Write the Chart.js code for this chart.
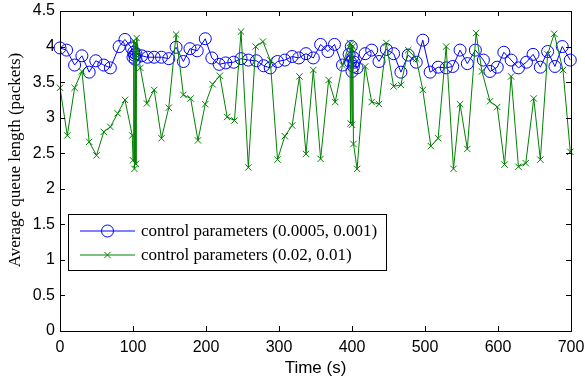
<!DOCTYPE html>
<html>
<head>
<meta charset="utf-8">
<script src="https://cdn.jsdelivr.net/npm/chart.js@4.4.1/dist/chart.umd.min.js"></script>
<style>
  html, body { margin: 0; padding: 0; background: #fff; }
  #wrap { width: 585px; height: 380px; }
</style>
</head>
<body>
<div id="wrap"><canvas id="myChart" width="585" height="380"></canvas></div>
<script>
// control parameters (0.0005, 0.001)
const blueTime = [0, 9, 20, 30, 40, 49, 60, 69, 81, 89, 98, 100, 101, 102, 103, 104, 112, 120, 129, 139,
  149, 159, 169, 178, 188, 199, 208, 218, 227, 238, 248, 258, 269, 279, 288, 298, 308, 318, 327, 337,
  347, 357, 367, 376, 387, 396, 398, 399, 400, 401, 402, 403, 407, 418, 427, 437, 447, 457, 467, 477,
  488, 497, 507, 518, 529, 538, 548, 558, 569, 580, 589, 599, 608, 618, 628, 639, 648, 658, 668, 678,
  688, 699];
const blueQueue = [3.98, 3.95, 3.74, 3.87, 3.64, 3.80, 3.74, 3.70, 4.00, 4.10, 3.98, 3.85, 3.92, 3.88, 3.82, 3.90, 3.87, 3.85, 3.85, 3.85,
  3.83, 3.99, 3.79, 3.97, 3.94, 4.11, 3.84, 3.75, 3.77, 3.78, 3.83, 3.81, 3.80, 3.73, 3.70, 3.79, 3.81, 3.86, 3.84, 3.90,
  3.84, 4.03, 3.93, 4.03, 3.74, 3.89, 3.78, 4.00, 3.65, 3.85, 3.72, 3.78, 3.70, 3.90, 3.95, 3.79, 3.96, 3.90, 3.64, 3.88,
  3.78, 4.09, 3.64, 3.71, 3.70, 3.72, 3.95, 3.76, 3.95, 3.81, 3.65, 3.71, 3.92, 3.81, 3.70, 3.78, 3.89, 3.71, 3.93, 3.72,
  4.00, 3.81];

// control parameters (0.02, 0.01)
const greenTime = [0, 10, 20, 30, 40, 50, 60, 69, 79, 89, 99, 100, 101, 102, 103, 104, 105, 110, 119, 129,
  139, 149, 159, 169, 179, 189, 199, 209, 219, 229, 239, 248, 258, 268, 278, 288, 298, 308, 318, 328,
  337, 347, 357, 368, 377, 387, 397, 398, 399, 400, 401, 402, 407, 418, 427, 437, 447, 457, 467, 477,
  488, 497, 508, 518, 529, 539, 548, 558, 570, 578, 589, 599, 609, 618, 628, 638, 649, 658, 668, 677,
  689, 699];
const greenQueue = [3.42, 2.75, 3.42, 3.65, 2.66, 2.47, 2.80, 2.87, 3.06, 3.25, 2.75, 2.40, 4.08, 2.28, 4.05, 2.35, 4.12, 3.70, 3.20, 3.39,
  2.71, 3.14, 4.17, 3.32, 3.27, 2.68, 3.19, 3.47, 3.59, 3.01, 2.96, 4.21, 2.30, 4.00, 4.07, 3.81, 2.41, 2.74, 2.89, 3.58,
  2.49, 3.67, 2.42, 3.53, 3.22, 3.74, 4.05, 2.92, 4.03, 2.90, 4.00, 2.63, 2.28, 3.72, 3.22, 3.19, 4.05, 3.44, 3.46, 3.95,
  3.83, 3.39, 2.60, 2.71, 4.00, 2.28, 3.19, 2.56, 4.19, 3.65, 3.23, 3.15, 2.34, 3.58, 2.31, 2.36, 3.27, 2.41, 3.89, 4.18,
  3.67, 2.52];

const xTicks = [0, 100, 200, 300, 400, 500, 600, 700];
const yTicks = [0, 0.5, 1, 1.5, 2, 2.5, 3, 3.5, 4, 4.5];
const seriesNames = ["control parameters (0.0005, 0.001)", "control parameters (0.02, 0.01)"];
const yTitle = "Average queue length (packets)";

const toPoints = (xs, ys) => xs.map((x, i) => ({ x: x, y: ys[i] }));

// MATLAB-like box with inward ticks on all four sides, plus legend and y title
const boxPlugin = {
  id: "box",
  afterDraw(chart) {
    const { ctx, chartArea: a, scales } = chart;
    ctx.save();
    ctx.strokeStyle = "#000";
    ctx.lineWidth = 1;
    ctx.beginPath();
    xTicks.forEach((t) => {
      const px = Math.round(scales.x.getPixelForValue(t)) + 0.5;
      ctx.moveTo(px, a.bottom); ctx.lineTo(px, a.bottom - 5);
      ctx.moveTo(px, a.top); ctx.lineTo(px, a.top + 5);
    });
    yTicks.forEach((t) => {
      const py = Math.round(scales.y.getPixelForValue(t)) + 0.5;
      ctx.moveTo(a.left, py); ctx.lineTo(a.left + 5, py);
      ctx.moveTo(a.right, py); ctx.lineTo(a.right - 5, py);
    });
    ctx.stroke();
    ctx.strokeRect(Math.round(a.left) + 0.5, Math.round(a.top) + 0.5,
      Math.round(a.right - a.left), Math.round(a.bottom - a.top));

    // y axis title
    ctx.save();
    ctx.translate(16, 160);
    ctx.rotate(-Math.PI / 2);
    ctx.fillStyle = "#000";
    ctx.font = "17px 'Liberation Serif'";
    ctx.textAlign = "center";
    ctx.textBaseline = "middle";
    ctx.fillText(yTitle, 0, 0);
    ctx.restore();

    // legend box
    const lx = 68.5, ly = 214.5, lw = 318, lh = 56;
    ctx.fillStyle = "#fff";
    ctx.fillRect(lx, ly, lw, lh);
    ctx.strokeRect(lx, ly, lw, lh);
    ctx.font = "17px 'Liberation Serif'";
    ctx.textBaseline = "middle";
    const rows = [231, 255];
    chart.data.datasets.forEach((ds, i) => {
      const y = rows[i];
      ctx.strokeStyle = ds.borderColor;
      ctx.lineWidth = 1;
      ctx.beginPath();
      ctx.moveTo(80, y); ctx.lineTo(135, y);
      ctx.stroke();
      ctx.beginPath();
      if (ds.pointStyle === "circle") {
        ctx.arc(107.5, y, ds.pointRadius, 0, Math.PI * 2);
      } else {
        const r = ds.pointRadius * 0.71;
        ctx.moveTo(107.5 - r, y - r); ctx.lineTo(107.5 + r, y + r);
        ctx.moveTo(107.5 - r, y + r); ctx.lineTo(107.5 + r, y - r);
      }
      ctx.stroke();
      ctx.fillStyle = "#000";
      ctx.fillText(seriesNames[i], 141, y + 1);
    });
    ctx.restore();
  },
};

const ctx_1 = document.getElementById("myChart");

new Chart(ctx_1, {
  type: "line",
  data: {
    datasets: [
      {
        label: seriesNames[0],
        data: toPoints(blueTime, blueQueue),
        borderColor: "#0000ff",
        borderWidth: 1,
        pointStyle: "circle",
        pointRadius: 6,
        pointBorderWidth: 1,
        pointBackgroundColor: "rgba(0,0,0,0)",
        pointBorderColor: "#0000ff",
        tension: 0,
        clip: false,
        order: 1,
      },
      {
        label: seriesNames[1],
        data: toPoints(greenTime, greenQueue),
        borderColor: "#008000",
        borderWidth: 1,
        pointStyle: "crossRot",
        pointRadius: 4.5,
        pointBorderWidth: 1,
        pointBorderColor: "#008000",
        tension: 0,
        clip: false,
        order: 0,
      },
    ],
  },
  options: {
    responsive: false,
    animation: false,
    events: [],
    layout: { padding: { top: 11, right: 14, left: 0, bottom: 0 } },
    plugins: {
      legend: { display: false },
      tooltip: { enabled: false },
    },
    scales: {
      x: {
        type: "linear",
        min: 0,
        max: 700,
        afterBuildTicks: (scale) => { scale.ticks = xTicks.map((v) => ({ value: v })); },
        afterFit: (scale) => {
          scale.height = 49;
          scale.paddingLeft = 0;
          scale.paddingRight = 0;
        },
        grid: { display: false, drawTicks: false },
        border: { display: false },
        ticks: {
          color: "#000",
          padding: 7,
          maxRotation: 0,
          callback: (v) => String(v),
          font: { family: "'Liberation Sans'", size: 16 },
        },
        title: {
          display: true,
          text: "Time (s)",
          color: "#000",
          padding: { top: 0, bottom: 1 },
          font: { family: "'Liberation Sans'", size: 17 },
        },
      },
      y: {
        type: "linear",
        min: 0,
        max: 4.5,
        afterBuildTicks: (scale) => { scale.ticks = yTicks.map((v) => ({ value: v })); },
        afterFit: (scale) => {
          scale.width = 60;
          scale.paddingTop = 0;
          scale.paddingBottom = 0;
        },
        grid: { display: false, drawTicks: false },
        border: { display: false },
        ticks: {
          color: "#000",
          padding: 5,
          callback: (v) => String(v),
          font: { family: "'Liberation Sans'", size: 16 },
        },
      },
    },
  },
  plugins: [boxPlugin],
});
</script>
</body>
</html>
